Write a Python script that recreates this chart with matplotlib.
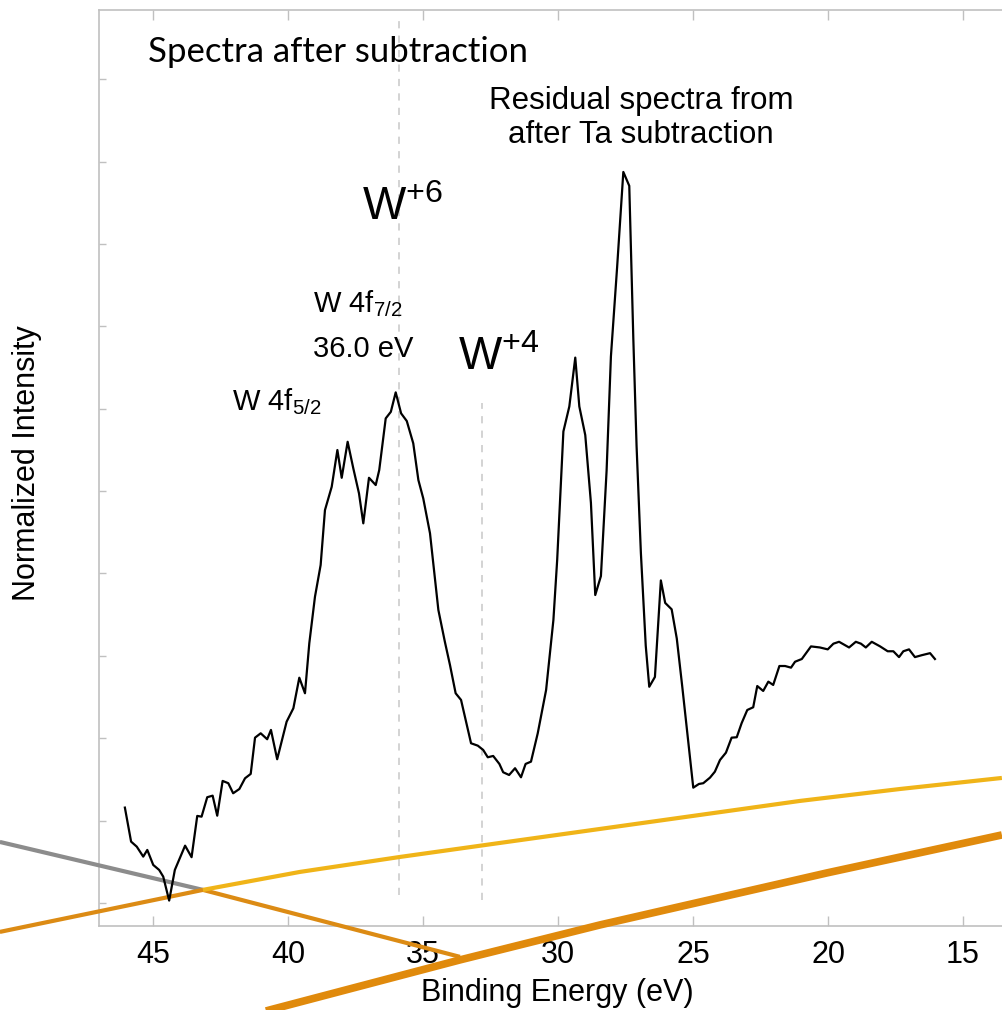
import matplotlib
matplotlib.use("Agg")
import matplotlib.pyplot as plt

plt.rcParams['font.family'] = ['Liberation Sans', 'DejaVu Sans']
plt.rcParams['mathtext.fontset'] = 'custom'
plt.rcParams['mathtext.rm'] = 'Liberation Sans'
plt.rcParams['mathtext.it'] = 'Liberation Sans:italic'

# ---- spectrum (binding energy in eV, normalized intensity) ----
energy = [46.04, 45.81, 45.60, 45.36, 45.21, 44.99, 44.77, 44.62, 44.40, 44.19,
          43.81, 43.57, 43.36, 43.20, 42.99, 42.79, 42.62, 42.42, 42.21, 42.03,
          41.80, 41.59, 41.38, 41.22, 41.01, 40.77, 40.63, 40.40, 40.05, 39.80,
          39.58, 39.37, 39.21, 39.00, 38.79, 38.63, 38.38, 38.17, 38.01, 37.79,
          37.58, 37.37, 37.21, 37.00, 36.75, 36.62, 36.38, 36.19, 36.01, 35.81,
          35.60, 35.36, 35.17, 34.99, 34.74, 34.43, 34.19, 34.00, 33.79, 33.59,
          33.22, 32.97, 32.77, 32.60, 32.40, 32.17, 32.03, 31.81, 31.59, 31.37,
          31.20, 31.00, 30.75, 30.44, 30.17, 30.03, 29.80, 29.58, 29.36, 29.21,
          28.99, 28.78, 28.62, 28.41, 28.20, 28.04, 27.81, 27.58, 27.36, 27.21,
          27.09, 26.93, 26.75, 26.62, 26.41, 26.19, 26.03, 25.79, 25.60, 25.40,
          24.99, 24.78, 24.62, 24.37, 24.19, 24.00, 23.78, 23.57, 23.38, 23.20,
          22.99, 22.77, 22.62, 22.40, 22.21, 22.03, 21.80, 21.59, 21.37, 21.22,
          20.97, 20.63, 20.30, 20.01, 19.80, 19.59, 19.22, 18.97, 18.78, 18.60,
          18.38, 18.07, 17.79, 17.58, 17.37, 17.21, 17.00, 16.78, 16.53, 16.22,
          16.04]
intensity = [1.157, 0.744, 0.683, 0.562, 0.643, 0.461, 0.400, 0.319, 0.028, 0.400,
             0.695, 0.555, 1.056, 1.047, 1.283, 1.302, 1.059, 1.481, 1.453, 1.331,
             1.383, 1.513, 1.566, 2.006, 2.059, 1.987, 2.100, 1.744, 2.200, 2.363,
             2.734, 2.545, 3.152, 3.717, 4.102, 4.769, 5.052, 5.498, 5.161, 5.598,
             5.275, 4.972, 4.608, 5.161, 5.073, 5.255, 5.882, 5.962, 6.198, 5.943,
             5.850, 5.579, 5.133, 4.911, 4.487, 3.556, 3.171, 2.888, 2.545, 2.464,
             1.938, 1.909, 1.857, 1.768, 1.784, 1.687, 1.586, 1.553, 1.635, 1.525,
             1.687, 1.715, 2.059, 2.585, 3.434, 4.163, 5.723, 6.027, 6.620, 6.027,
             5.680, 4.856, 3.738, 3.968, 5.246, 6.633, 7.718, 8.874, 8.705, 6.850,
             5.550, 4.249, 3.123, 2.624, 2.743, 3.915, 3.642, 3.564, 3.209, 2.633,
             1.399, 1.444, 1.453, 1.521, 1.593, 1.735, 1.824, 2.006, 2.011, 2.181,
             2.342, 2.375, 2.633, 2.573, 2.686, 2.646, 2.876, 2.876, 2.856, 2.928,
             2.961, 3.114, 3.101, 3.078, 3.147, 3.170, 3.101, 3.170, 3.147, 3.101,
             3.170, 3.114, 3.055, 3.055, 2.984, 3.055, 3.078, 2.984, 3.007, 3.032,
             2.961]

# ---- stray overlay lines (extend beyond the axes) ----
grey_x = [50.67, 43.15]
grey_y = [0.740, 0.158]
orange_thin_x = [43.15, 33.63]
orange_thin_y = [0.158, -0.655]
orange_left_x = [50.67, 43.15]
orange_left_y = [-0.352, 0.158]
yellow_x = [43.15, 39.56, 35.85, 32.15, 28.44, 24.74, 21.04, 17.33, 13.56]
yellow_y = [0.158, 0.376, 0.558, 0.728, 0.898, 1.068, 1.238, 1.383, 1.517]
orange_thick_x = [43.26, 40.67, 33.63, 28.44, 20.04, 13.56]
orange_thick_y = [-1.54, -1.299, -0.692, -0.267, 0.364, 0.825]

# ---- reference markers ----
w6_energy = 35.9
w4_energy = 32.8
xticks = [45, 40, 35, 30, 25, 20, 15]
yticks = [0, 1, 2, 3, 4, 5, 6, 7, 8, 9, 10]

fig = plt.figure(figsize=(10.02, 10.10), dpi=100)
ax = fig.add_axes([0.0993, 0.0832, 0.9007, 0.9069])
ax.set_xlim(46.98, 13.556)
ax.set_ylim(-0.28, 10.84)

spine_c = '#c0c0c0'
for s in ['left', 'bottom', 'top']:
    ax.spines[s].set_color(spine_c)
    ax.spines[s].set_linewidth(1.2)
ax.spines['right'].set_visible(False)

ax.set_xticks(xticks)
ax.set_yticks(yticks)
ax.set_yticklabels([])
ax.tick_params(axis='x', direction='in', length=7, width=1, color=spine_c,
               labelsize=22, pad=10, top=True)
ax.tick_params(axis='y', direction='in', length=5, width=1, color=spine_c,
               left=True, right=False)

# dashed reference lines
ax.plot([w6_energy, w6_energy], [0.097, 10.78], ls=(0, (4, 4)), color='#d0d0d0', lw=1.3)
ax.plot([w4_energy, w4_energy], [0.036, 6.07], ls=(0, (4, 4)), color='#d0d0d0', lw=1.3)

# spectrum
ax.plot(energy, intensity, color='black', lw=1.6, zorder=5)

# overlay lines
ax.plot(grey_x, grey_y, color='#8c8c8c', lw=3.0, clip_on=False, zorder=4, solid_capstyle='butt')
ax.plot(orange_left_x, orange_left_y, color='#dc8b14', lw=3.0, clip_on=False, zorder=4, solid_capstyle='butt')
ax.plot(orange_thin_x, orange_thin_y, color='#dc8b14', lw=3.0, clip_on=False, zorder=4, solid_capstyle='butt')
ax.plot(yellow_x, yellow_y, color='#f0b418', lw=3.0, clip_on=False, zorder=4, solid_capstyle='butt')
ax.plot(orange_thick_x, orange_thick_y, color='#e08a0c', lw=5.5, clip_on=False, zorder=4, solid_capstyle='butt')

# annotations
ax.text(45.19, 10.33, 'Spectra after subtraction', family=['Lato', 'DejaVu Sans'],
        fontsize=25, ha='left', va='center')
ax.text(26.93, 9.53, 'Residual spectra from\nafter Ta subtraction', fontsize=22.5,
        ha='center', va='center', linespacing=1.15)
ax.text(37.26, 8.29, r'W$^{\mathregular{+6}}$', fontsize=33, ha='left', va='baseline')
ax.text(33.70, 6.47, r'W$^{\mathregular{+4}}$', fontsize=33, ha='left', va='baseline')
ax.text(39.07, 7.17, r'W 4f$_{\mathregular{7/2}}$', fontsize=21, ha='left', va='baseline')
ax.text(39.07, 6.63, '36.0 eV', fontsize=21, ha='left', va='baseline')
ax.text(42.07, 5.98, r'W 4f$_{\mathregular{5/2}}$', fontsize=21, ha='left', va='baseline')

fig.text(27 / 1002, 1 - 463 / 1010, 'Normalized Intensity', rotation=90,
         fontsize=22, ha='center', va='center')
fig.text(557 / 1002, 1 - 993 / 1010, 'Binding Energy (eV)', fontsize=22,
         ha='center', va='center')

fig.savefig('out.png', dpi=100)
